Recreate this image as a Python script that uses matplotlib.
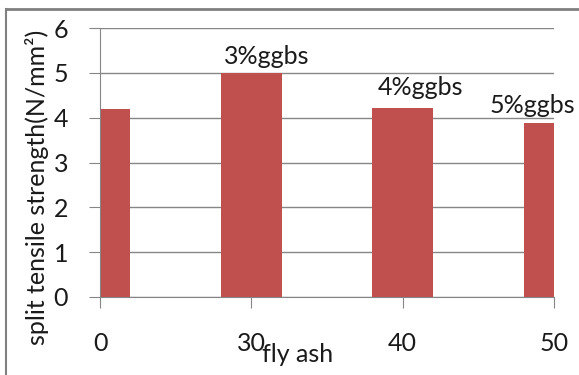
import matplotlib
matplotlib.use('Agg')
import matplotlib.pyplot as plt
from matplotlib.lines import Line2D

# data
fly_ash = ['0', '30', '40', '50']
strength = [4.19, 5.0, 4.21, 3.89]
bar_labels = ['', '3%ggbs', '4%ggbs', '5%ggbs']
label_shift = [(0, 0), (15, 9), (18, 13), (-22, 10)]  # pixels

plt.rcParams['font.family'] = ['Lato', 'DejaVu Sans']
grey = '#868686'
txt = '#1a1a1a'
fs = 18

fig = plt.figure(figsize=(5.79, 3.75), dpi=100)
ax = fig.add_axes([100/579, 1-297/375, 454/579, 269/375])

pos = list(range(len(fly_ash)))
bars = ax.bar(pos, strength, width=0.4, color='#C0504D', zorder=3)
ax.set_xlim(0, len(fly_ash) - 1)
ax.set_ylim(0, 6)
ax.set_yticks(range(0, 7))
ax.set_xticks(pos)
ax.set_xticklabels(fly_ash)

ax.grid(axis='y', color=grey, linewidth=1, zorder=0)
for s in ['top', 'right']:
    ax.spines[s].set_visible(False)
for s in ['left', 'bottom']:
    ax.spines[s].set_color(grey)
    ax.spines[s].set_zorder(4)
ax.tick_params(axis='y', length=8, color=grey, pad=15, labelsize=fs, labelcolor=txt)
ax.tick_params(axis='x', length=8, color=grey, pad=17, labelsize=fs, labelcolor=txt)

for b, lab, (dx, dy) in zip(bars, bar_labels, label_shift):
    if lab:
        ax.annotate(lab, (b.get_x() + b.get_width()/2, b.get_height()),
                    xytext=(dx, dy), textcoords='offset pixels',
                    ha='center', va='baseline', fontsize=fs, color=txt,
                    annotation_clip=False, zorder=5)

fig.text(298/579, 1-354/375, 'fly ash', ha='center', va='center', fontsize=fs, color=txt)
fig.text(37/579, 1-187/375, 'split tensile strength(N/mm²)', rotation=90,
         ha='center', va='center', fontsize=fs, color=txt)

# outer chart border (top and left only visible)
fig.add_artist(Line2D([6/579, 1], [1-9/375, 1-9/375], color='#808080', linewidth=2))
fig.add_artist(Line2D([6/579, 6/579], [0, 1-9/375], color='#808080', linewidth=1.5))

fig.savefig('out.png', dpi=100)
